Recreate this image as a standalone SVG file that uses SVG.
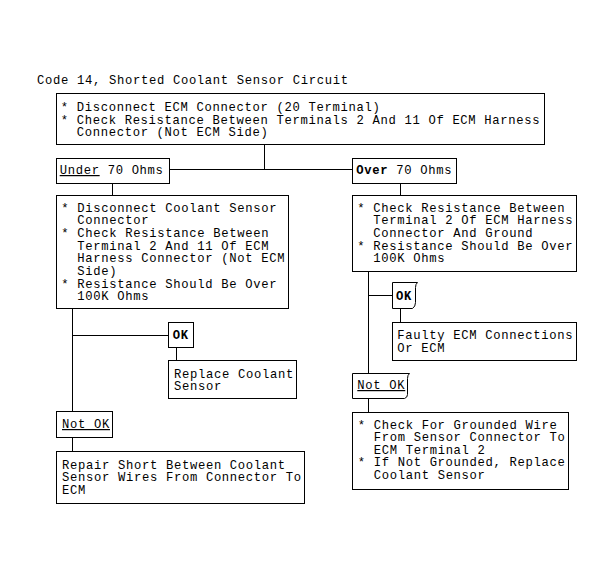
<svg xmlns="http://www.w3.org/2000/svg" width="615" height="576" viewBox="0 0 615 576">
<style>
  .bx{fill:#fff;stroke:#000;stroke-width:1}
  .ln{fill:none;stroke:#000;stroke-width:1}
  text{font-family:"Liberation Mono","DejaVu Sans Mono",monospace;font-size:12.2px;letter-spacing:0.68px;fill:#000}
  .b{font-weight:bold}
  .u{text-decoration:underline}
</style>
<rect width="615" height="576" fill="#fff"/>
<text x="37" y="83.5">Code 14, Shorted Coolant Sensor Circuit</text>
<g id="connectors">
  <path class="ln" d="M264.5 144.5V169.5M169.5 169.5H352.5"/>
  <path class="ln" d="M112.5 183.5V195.5M400.5 183.5V195.5"/>
  <path class="ln" d="M72.5 308.5V411.5M72.5 335.5H168.5M176.5 347.5V360.5M72.5 437.5V451.5"/>
  <path class="ln" d="M368.5 271.5V373.5M368.5 295.5H392.5M400.5 308.5V322.5M368.5 398.5V412.5"/>
</g>
<g id="start">
  <rect class="bx" x="56.5" y="93.5" width="488" height="51"/>
  <text x="60.7" y="111">* Disconnect ECM Connector (20 Terminal)</text>
  <text x="60.7" y="123.7">* Check Resistance Between Terminals 2 And 11 Of ECM Harness</text>
  <text x="76.7" y="136.3">Connector (Not ECM Side)</text>
</g>
<g id="under">
  <rect class="bx" x="56.5" y="158.5" width="113" height="25"/>
  <text x="59.7" y="174"><tspan class="u">Under</tspan> 70 Ohms</text>
</g>
<g id="over">
  <rect class="bx" x="352.5" y="158.5" width="104" height="25"/>
  <text x="356.2" y="174"><tspan class="b">Over</tspan> 70 Ohms</text>
</g>
<g id="checkUnder">
  <rect class="bx" x="56.5" y="195.5" width="232" height="113"/>
  <text x="61.3" y="211.7">* Disconnect Coolant Sensor</text>
  <text x="77.3" y="224.3">Connector</text>
  <text x="61.3" y="237">* Check Resistance Between</text>
  <text x="77.3" y="249.6">Terminal 2 And 11 Of ECM</text>
  <text x="77.3" y="262.3">Harness Connector (Not ECM</text>
  <text x="77.3" y="274.9">Side)</text>
  <text x="61.3" y="287.6">* Resistance Should Be Over</text>
  <text x="77.3" y="300.2">100K Ohms</text>
</g>
<g id="checkOver">
  <rect class="bx" x="352.5" y="195.5" width="224" height="76"/>
  <text x="357.3" y="211.7">* Check Resistance Between</text>
  <text x="373.3" y="224.3">Terminal 2 Of ECM Harness</text>
  <text x="373.3" y="237">Connector And Ground</text>
  <text x="357.3" y="249.6">* Resistance Should Be Over</text>
  <text x="373.3" y="262.3">100K Ohms</text>
</g>
<g id="okLeft">
  <rect class="bx" x="168.5" y="322.5" width="25" height="25"/>
  <text class="b" x="172.7" y="338.5">OK</text>
</g>
<g id="replace">
  <rect class="bx" x="168.5" y="360.5" width="128" height="38"/>
  <text x="174" y="377.7">Replace Coolant</text>
  <text x="174" y="390.3">Sensor</text>
</g>
<g id="notOkLeft">
  <rect class="bx" x="56.5" y="411.5" width="56" height="26"/>
  <text class="u" x="62" y="428">Not OK</text>
</g>
<g id="repair">
  <rect class="bx" x="56.5" y="451.5" width="248" height="52"/>
  <text x="62" y="468.5">Repair Short Between Coolant</text>
  <text x="62" y="481.1">Sensor Wires From Connector To</text>
  <text x="62" y="493.7">ECM</text>
</g>
<g id="okRight">
  <path class="bx" d="M392.5 282.5H417.5Q415.5 284 415.5 287.5V302.5Q415.5 306.5 412.5 308.5H392.5Z"/>
  <text class="b" x="396" y="299.5">OK</text>
</g>
<g id="faulty">
  <rect class="bx" x="392.5" y="322.5" width="184" height="38"/>
  <text x="397.3" y="339">Faulty ECM Connections</text>
  <text x="397.3" y="351.7">Or ECM</text>
</g>
<g id="notOkRight">
  <path class="bx" d="M352.5 373.5H409.5Q407.5 375 407.5 378.5V394.5Q407.5 397.5 404.5 398.5H352.5Z"/>
  <text class="u" x="357.3" y="389">Not OK</text>
</g>
<g id="checkGround">
  <rect class="bx" x="352.5" y="412.5" width="216" height="77"/>
  <text x="357.7" y="428.5">* Check For Grounded Wire</text>
  <text x="373.7" y="441.1">From Sensor Connector To</text>
  <text x="373.7" y="453.7">ECM Terminal 2</text>
  <text x="357.7" y="466.3">* If Not Grounded, Replace</text>
  <text x="373.7" y="478.9">Coolant Sensor</text>
</g>
</svg>
